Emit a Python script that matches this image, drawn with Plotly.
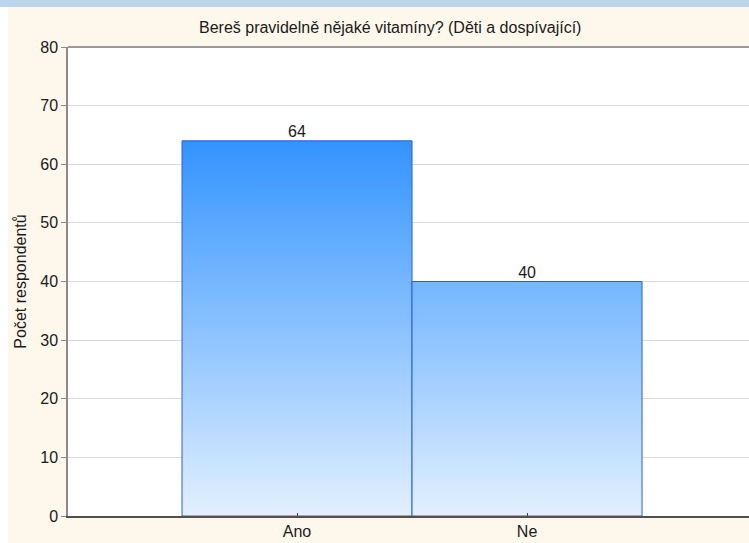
import plotly.graph_objects as go

categories = ["Ano", "Ne"]
counts = [64, 40]
y_ticks = [0, 10, 20, 30, 40, 50, 60, 70, 80]

W, H = 749, 543
ML, MR, MT, MB = 68, 0, 47, 27
PW, PH = W - ML - MR, H - MT - MB

FONT = "Liberation Sans, Arial, sans-serif"
CREAM = "#fef8ec"
INK = "#1a1a1a"

fig = go.Figure()

# bars as filled polygons so they can carry a shared vertical gradient
for i, (cat, v) in enumerate(zip(categories, counts)):
    x0, x1 = i - 0.5, i + 0.5
    fig.add_trace(go.Scatter(
        x=[x0, x0, x1, x1, x0], y=[0, v, v, 0, 0],
        mode="lines", fill="toself",
        fillgradient=dict(type="vertical",
                          colorscale=[[0, "#e2f0ff"], [1, "#3393ff"]],
                          start=0, stop=max(counts)),
        line=dict(color="#2b5fd9", width=1),
        hoverinfo="skip", showlegend=False,
    ))

# value labels above the bars
fig.add_trace(go.Scatter(
    x=list(range(len(categories))), y=counts,
    mode="text", text=[str(v) for v in counts],
    textposition="top center",
    textfont=dict(family=FONT, size=16, color=INK),
    hoverinfo="skip", showlegend=False,
))

px_x = lambda p: (p - ML) / PW
px_y = lambda p: 1 - (p - MT) / PH

shapes = [
    # light blue band along the top edge
    dict(type="rect", xref="paper", yref="paper", x0=px_x(0), x1=px_x(W),
         y0=px_y(0), y1=px_y(7), fillcolor="#bdd4ed", line_width=0, layer="below"),
    # white strip on the left edge
    dict(type="rect", xref="paper", yref="paper", x0=px_x(0), x1=px_x(8),
         y0=px_y(7), y1=px_y(H), fillcolor="white", line_width=0, layer="below"),
    # top border of the plotting area
    dict(type="line", xref="paper", yref="paper", x0=0, x1=1, y0=1, y1=1,
         line=dict(color="#9a9a9a", width=2)),
]

fig.update_layout(
    width=W, height=H,
    margin=dict(l=ML, r=MR, t=MT, b=MB),
    paper_bgcolor=CREAM, plot_bgcolor="white",
    shapes=shapes,
    showlegend=False,
    font=dict(family=FONT, size=16, color=INK),
    annotations=[
        dict(text="Bereš pravidelně nějaké vitamíny? (Děti a dospívající)",
             xref="paper", yref="paper", x=px_x(390), y=px_y(27),
             xanchor="center", yanchor="middle", showarrow=False,
             font=dict(family=FONT, size=16, color=INK)),
    ],
)

fig.update_xaxes(
    range=[-0.9957, 1.965],
    tickmode="array", tickvals=list(range(len(categories))), ticktext=categories,
    ticks="inside", ticklen=3, tickcolor="#404040", tickwidth=1,
    showgrid=False, zeroline=False,
    showline=True, linecolor="#505050", linewidth=2,
    tickfont=dict(family=FONT, size=16, color=INK),
)
fig.update_yaxes(
    range=[0, 80], tickmode="array", tickvals=y_ticks,
    ticks="outside", ticklen=5, tickcolor="#8a8a8a",
    showgrid=True, gridcolor="#dadada", gridwidth=1, zeroline=False,
    showline=True, linecolor="#8a8a8a", linewidth=1.5,
    tickfont=dict(family=FONT, size=16, color=INK),
    title=dict(text="Počet respondentů", standoff=10,
               font=dict(family=FONT, size=16, color=INK)),
)

fig.write_html("out.html")
